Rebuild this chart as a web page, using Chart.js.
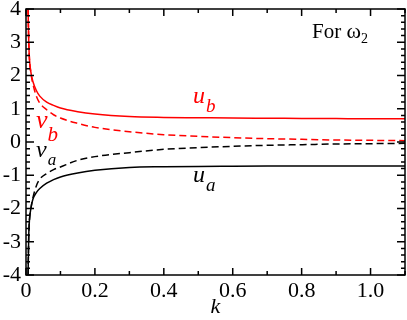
<!DOCTYPE html>
<html>
<head>
<meta charset="utf-8">
<script src="https://cdn.jsdelivr.net/npm/chart.js@4/dist/chart.umd.min.js"></script>
<style>
  html, body { margin: 0; padding: 0; background: #fff; }
  #wrap { width: 407px; height: 320px; }
</style>
</head>
<body>
<div id="wrap"><canvas id="c"></canvas></div>
<script>
// values
const kVals = [0.006, 0.008, 0.01, 0.015, 0.02, 0.03, 0.04, 0.06, 0.08, 0.1, 0.15, 0.2, 0.3, 0.4, 0.5, 0.6, 0.7, 0.8, 0.9, 1.0, 1.1];
const uB = [4.0, 3.0, 2.5, 2.05, 1.82, 1.55, 1.38, 1.2, 1.1, 1.02, 0.91, 0.84, 0.765, 0.74, 0.73, 0.72, 0.715, 0.71, 0.705, 0.70, 0.70];
const vB = [4.0, 3.0, 2.5, 2.02, 1.75, 1.38, 1.17, 0.97, 0.82, 0.72, 0.56, 0.44, 0.31, 0.22, 0.17, 0.13, 0.10, 0.08, 0.06, 0.05, 0.04];
const vA = [-4.0, -2.8, -2.35, -1.95, -1.68, -1.32, -1.12, -0.95, -0.83, -0.75, -0.55, -0.44, -0.32, -0.22, -0.17, -0.13, -0.10, -0.08, -0.06, -0.05, -0.04];
const uA = [-4.0, -2.8, -2.35, -1.95, -1.72, -1.52, -1.40, -1.24, -1.13, -1.05, -0.93, -0.85, -0.765, -0.745, -0.735, -0.73, -0.725, -0.72, -0.72, -0.72, -0.72];
const xTicks = [0, 0.2, 0.4, 0.6, 0.8, 1.0];
const yTicks = [-4, -3, -2, -1, 0, 1, 2, 3, 4];

const serif = '"Liberation Serif", "DejaVu Serif", serif';
const pts = (ys) => kVals.map((k, i) => ({ x: k, y: ys[i] }));
const line = (label, ys, color, dash) => ({
  label, data: pts(ys), borderColor: color, borderWidth: 1.5, borderDash: dash,
  pointRadius: 0, showLine: true, fill: false, cubicInterpolationMode: 'monotone',
});

// inward ticks on all four sides, the box, and the curve labels
const framePlugin = {
  id: 'frame',
  afterDraw(chart) {
    const { ctx, chartArea: a, scales: { x, y } } = chart;
    ctx.save();
    ctx.strokeStyle = '#000';
    ctx.lineWidth = 1.5;
    ctx.beginPath();
    for (let i = 0; i <= 11; i++) {
      const px = x.getPixelForValue(i / 10);
      const len = i % 2 === 0 ? 7 : 4;
      ctx.moveTo(px, a.bottom); ctx.lineTo(px, a.bottom - len);
      ctx.moveTo(px, a.top); ctx.lineTo(px, a.top + len);
    }
    for (let i = -20; i <= 20; i++) {
      const py = y.getPixelForValue(i / 5);
      const len = i % 5 === 0 ? 8 : 4;
      ctx.moveTo(a.left, py); ctx.lineTo(a.left + len, py);
      ctx.moveTo(a.right, py); ctx.lineTo(a.right - len, py);
    }
    ctx.stroke();
    ctx.strokeRect(a.left, a.top, a.right - a.left, a.bottom - a.top);

    const sub = (main, s, color, kx, ky, size, subSize, dx, dy) => {
      const px = x.getPixelForValue(kx), py = y.getPixelForValue(ky);
      ctx.fillStyle = color;
      ctx.textBaseline = 'alphabetic';
      ctx.textAlign = 'left';
      ctx.font = `italic ${size}px ${serif}`;
      ctx.fillText(main, px, py);
      const w = ctx.measureText(main).width;
      ctx.font = `italic ${subSize}px ${serif}`;
      ctx.fillText(s, px + w + dx, py + dy);
    };
    sub('u', 'b', '#ff0000', 0.485, 1.17, 24, 19, 1, 9);
    sub('u', 'a', '#000', 0.485, -1.2, 24, 19, 1, 9);
    sub('v', 'b', '#ff0000', 0.029, 0.42, 26, 21, 0, 13);
    sub('v', 'a', '#000', 0.029, -0.45, 24, 17, 1, 8);

    // "For ω2"
    ctx.fillStyle = '#000';
    ctx.font = `21px ${serif}`;
    const fx = 312, fy = 38;
    ctx.fillText('For ', fx, fy);
    let w = ctx.measureText('For ').width;
    ctx.font = `22px ${serif}`;
    ctx.fillText('ω', fx + w, fy);
    w += ctx.measureText('ω').width;
    ctx.font = `14px ${serif}`;
    ctx.fillText('2', fx + w, fy + 5);
    ctx.restore();
  },
};

new Chart(document.getElementById('c'), {
  type: 'scatter',
  data: {
    datasets: [
      line('u_b', uB, '#ff0000', []),
      line('v_b', vB, '#ff0000', [7, 4]),
      line('v_a', vA, '#000000', [7, 4]),
      line('u_a', uA, '#000000', []),
    ],
  },
  options: {
    responsive: true,
    maintainAspectRatio: false,
    animation: false,
    layout: { padding: { top: 9, right: 2, left: 0, bottom: 0 } },
    plugins: { legend: { display: false }, tooltip: { enabled: false } },
    scales: {
      x: {
        type: 'linear', min: 0, max: 1.1,
        afterBuildTicks: (s) => { s.ticks = xTicks.map((v) => ({ value: v })); },
        afterFit: (s) => { s.height = 45; s.paddingLeft = 0; s.paddingRight = 0; },
        grid: { display: false, drawTicks: false },
        border: { display: false },
        ticks: {
          color: '#000', padding: 3, maxRotation: 0, autoSkip: false,
          font: { family: serif, size: 22 },
          callback: (v) => (v === 0 ? '0' : v.toFixed(1)),
        },
        title: {
          display: true, text: 'k', color: '#000', padding: { top: -5, bottom: 0 },
          font: { family: serif, size: 22, style: 'italic' },
        },
      },
      y: {
        type: 'linear', min: -4, max: 4,
        afterBuildTicks: (s) => { s.ticks = yTicks.map((v) => ({ value: v })); },
        afterFit: (s) => { s.width = 26; s.paddingTop = 0; s.paddingBottom = 0; },
        grid: { display: false, drawTicks: false },
        border: { display: false },
        ticks: {
          color: '#000', padding: 5,
          font: { family: serif, size: 22 },
        },
      },
    },
  },
  plugins: [framePlugin],
});
</script>
</body>
</html>
